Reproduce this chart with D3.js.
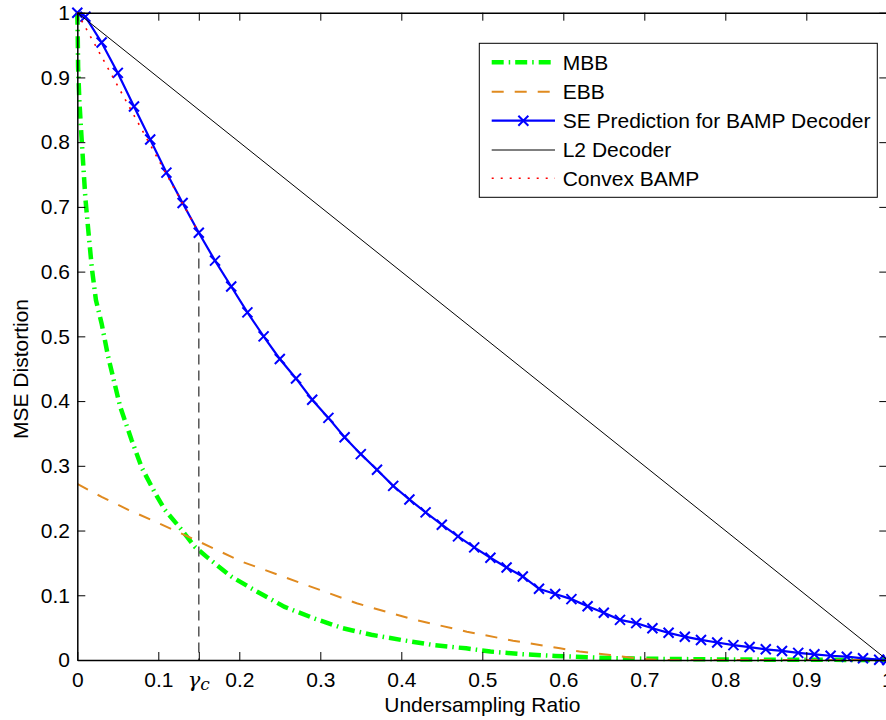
<!DOCTYPE html>
<html>
<head>
<meta charset="utf-8">
<script src="https://cdn.jsdelivr.net/npm/d3@7/dist/d3.min.js"></script>
<style>
  html, body { margin: 0; padding: 0; background: #fff; }
  svg { display: block; }
  text { font-family: "Liberation Sans", Arial, Helvetica, sans-serif; fill: #000; }
</style>
</head>
<body>
<svg id="chart" width="886" height="720"></svg>
<script>
// ---------------- data ----------------
const seriesNames = ["MBB", "EBB", "SE Prediction for BAMP Decoder", "L2 Decoder", "Convex BAMP"];

const mbbX = [0, 0.0005, 0.001, 0.0025, 0.005, 0.0075, 0.01, 0.014, 0.018, 0.023, 0.03, 0.038, 0.053, 0.067, 0.08, 0.096, 0.108, 0.129, 0.145, 0.162, 0.19, 0.22, 0.256, 0.293, 0.328, 0.363, 0.40, 0.44, 0.48, 0.51, 0.55, 0.59, 0.63, 0.66, 0.70, 0.80, 0.90, 1.0];
const mbbY = [1.0, 0.969, 0.916, 0.865, 0.812, 0.762, 0.713, 0.658, 0.605, 0.556, 0.52, 0.469, 0.391, 0.340, 0.296, 0.258, 0.232, 0.201, 0.175, 0.157, 0.129, 0.107, 0.082, 0.064, 0.049, 0.039, 0.031, 0.023, 0.018, 0.013, 0.009, 0.0062, 0.0042, 0.003, 0.002, 0.0008, 0.0003, 0];

const ebbX = [0, 0.03, 0.063, 0.096, 0.15, 0.203, 0.30, 0.345, 0.413, 0.481, 0.538, 0.596, 0.62, 0.658, 0.695, 0.72, 1.0];
const ebbY = [0.272, 0.252, 0.232, 0.214, 0.183, 0.152, 0.108, 0.0876, 0.0633, 0.0437, 0.0298, 0.018, 0.013, 0.0077, 0.002, 0, 0];

const seX = [0, 0.01, 0.03, 0.05, 0.07, 0.09, 0.11, 0.13, 0.15, 0.17, 0.19, 0.21, 0.23, 0.25, 0.27, 0.29, 0.31, 0.33, 0.35, 0.37, 0.39, 0.41, 0.43, 0.45, 0.47, 0.49, 0.51, 0.53, 0.55, 0.57, 0.59, 0.61, 0.63, 0.65, 0.67, 0.69, 0.71, 0.73, 0.75, 0.77, 0.79, 0.81, 0.83, 0.85, 0.87, 0.89, 0.91, 0.93, 0.95, 0.97, 0.99, 1.0];
const seY = [1.0, 0.994, 0.954, 0.907, 0.855, 0.804, 0.753, 0.706, 0.660, 0.617, 0.577, 0.537, 0.500, 0.465, 0.435, 0.402, 0.374, 0.344, 0.318, 0.294, 0.269, 0.248, 0.228, 0.209, 0.191, 0.174, 0.158, 0.143, 0.129, 0.110, 0.102, 0.094, 0.083, 0.073, 0.062, 0.057, 0.049, 0.042, 0.036, 0.031, 0.027, 0.023, 0.020, 0.0165, 0.014, 0.011, 0.0088, 0.0066, 0.0051, 0.0026, 0.0005, 0];

const l2X = [0, 1];
const l2Y = [1, 0];

const convexX = [0, 0.15];
const convexY = [1, 0.66];

const gammaC = 0.15;
const gammaCY = 0.66;

const xTicks = [0, 0.1, 0.15, 0.2, 0.3, 0.4, 0.5, 0.6, 0.7, 0.8, 0.9, 1];
const yTicks = [0, 0.1, 0.2, 0.3, 0.4, 0.5, 0.6, 0.7, 0.8, 0.9, 1];
const xLabel = "Undersampling Ratio";
const yLabel = "MSE Distortion";

// ---------------- drawing ----------------
const svg = d3.select("#chart");
const FS = 21;
const pLeft = 77.3, pRight = 887.3, pTop = 12.7, pBottom = 660;

const x = d3.scaleLinear().domain([0, 1]).range([pLeft, pRight]);
const y = d3.scaleLinear().domain([0, 1]).range([pBottom, pTop]);

const zip = (xs, ys) => xs.map((v, i) => [v, ys[i]]);
const line = d3.line().x(d => x(d[0])).y(d => y(d[1]));

const plot = svg.append("g");

// MBB
plot.append("path").datum(zip(mbbX, mbbY)).attr("d", line)
  .attr("fill", "none").attr("stroke", "#00ff00").attr("stroke-width", 4.5)
  .attr("stroke-dasharray", "12,5,1.5,5");

// EBB
plot.append("path").datum(zip(ebbX, ebbY)).attr("d", line)
  .attr("fill", "none").attr("stroke", "#e08a1f").attr("stroke-width", 2)
  .attr("stroke-dasharray", "12,11");

// SE prediction
const seData = zip(seX, seY);
plot.append("path").datum(seData).attr("d", line)
  .attr("fill", "none").attr("stroke", "#0000ff").attr("stroke-width", 2.2);
const mk = 5;
plot.append("g").selectAll("path").data(seData).join("path")
  .attr("d", d => {
    const cx = x(d[0]), cy = y(d[1]);
    return `M${cx - mk},${cy - mk}L${cx + mk},${cy + mk}M${cx - mk},${cy + mk}L${cx + mk},${cy - mk}`;
  })
  .attr("stroke", "#0000ff").attr("stroke-width", 2).attr("fill", "none");

// L2 decoder
plot.append("path").datum(zip(l2X, l2Y)).attr("d", line)
  .attr("fill", "none").attr("stroke", "#000").attr("stroke-width", 1);

// Convex BAMP
plot.append("path").datum(zip(convexX, convexY)).attr("d", line)
  .attr("fill", "none").attr("stroke", "#ff0000").attr("stroke-width", 1.6)
  .attr("stroke-dasharray", "2,7");

// gamma_c dashed line
plot.append("path").datum([[gammaC, gammaCY - 0.015], [gammaC, 0]]).attr("d", line)
  .attr("fill", "none").attr("stroke", "#555").attr("stroke-width", 1.5)
  .attr("stroke-dasharray", "10,6");

// ---------------- axes ----------------
const tk = 8;
const fmt = d => d === gammaC ? "" : (d === 0 || d === 1 ? String(d) : d3.format(".1f")(d));

const gB = svg.append("g").attr("transform", `translate(0,${pBottom})`)
  .call(d3.axisBottom(x).tickValues(xTicks).tickFormat(fmt).tickSizeInner(-tk).tickSizeOuter(0).tickPadding(11.8));
const gT = svg.append("g").attr("transform", `translate(0,${pTop})`)
  .call(d3.axisTop(x).tickValues(xTicks).tickFormat("").tickSizeInner(-tk).tickSizeOuter(0));
const gL = svg.append("g").attr("transform", `translate(${pLeft},0)`)
  .call(d3.axisLeft(y).tickValues(yTicks).tickFormat(fmt).tickSizeInner(-tk).tickSizeOuter(0).tickPadding(7.3));
const gR = svg.append("g").attr("transform", `translate(${pRight},0)`)
  .call(d3.axisRight(y).tickValues(yTicks).tickFormat("").tickSizeInner(-tk).tickSizeOuter(0));

[gB, gT, gL, gR].forEach(g => {
  g.selectAll("text").style("font-size", FS + "px").attr("fill", "#000")
    .style("font-family", '"Liberation Sans", Arial, sans-serif');
  g.selectAll("line").attr("stroke", "#000").attr("stroke-width", 1);
  g.select(".domain").attr("stroke", "#000").attr("stroke-width", 1.5);
});

// gamma_c label
const gl = svg.append("text").attr("x", x(gammaC)).attr("y", 686.7)
  .attr("text-anchor", "middle")
  .style("font-family", '"DejaVu Serif", "Liberation Serif", serif')
  .style("font-style", "italic").style("font-size", "21px");
gl.append("tspan").text("γ");
gl.append("tspan").text("c").attr("dy", 3).style("font-size", "17px");

// axis labels
svg.append("text").attr("x", (pLeft + pRight) / 2).attr("y", 711.7)
  .attr("text-anchor", "middle").style("font-size", FS + "px").text(xLabel);
svg.append("text").attr("transform", "translate(28,369) rotate(-90)")
  .attr("text-anchor", "middle").style("font-size", FS + "px").text(yLabel);

// ---------------- legend ----------------
const lg = svg.append("g");
const lgX0 = 479.3, lgY0 = 43.3, lgW = 398, lgH = 154;
lg.append("rect").attr("x", lgX0).attr("y", lgY0).attr("width", lgW).attr("height", lgH)
  .attr("fill", "#fff").attr("stroke", "#000").attr("stroke-width", 1);
const rowY = [62.3, 91.7, 120.7, 150, 178.3];
const styles = [
  {c: "#00ff00", w: 4.5, da: "12,5,1.5,5"},
  {c: "#e08a1f", w: 2, da: "12,11"},
  {c: "#0000ff", w: 2.2, da: null, marker: true},
  {c: "#000", w: 1, da: null},
  {c: "#ff0000", w: 1.6, da: "2,7"}
];
const sx0 = 491.7, sx1 = 555, tx = 562.7;
seriesNames.forEach((name, i) => {
  const st = styles[i];
  const yy = rowY[i];
  const p = lg.append("line").attr("x1", sx0).attr("x2", sx1).attr("y1", yy).attr("y2", yy)
    .attr("stroke", st.c).attr("stroke-width", st.w);
  if (st.da) p.attr("stroke-dasharray", st.da);
  if (st.marker) {
    const cx = (sx0 + sx1) / 2;
    lg.append("path").attr("d", `M${cx - mk},${yy - mk}L${cx + mk},${yy + mk}M${cx - mk},${yy + mk}L${cx + mk},${yy - mk}`)
      .attr("stroke", st.c).attr("stroke-width", 2);
  }
  lg.append("text").attr("x", tx).attr("y", yy).attr("dy", "0.35em")
    .style("font-size", FS + "px").text(name);
});
</script>
</body>
</html>
